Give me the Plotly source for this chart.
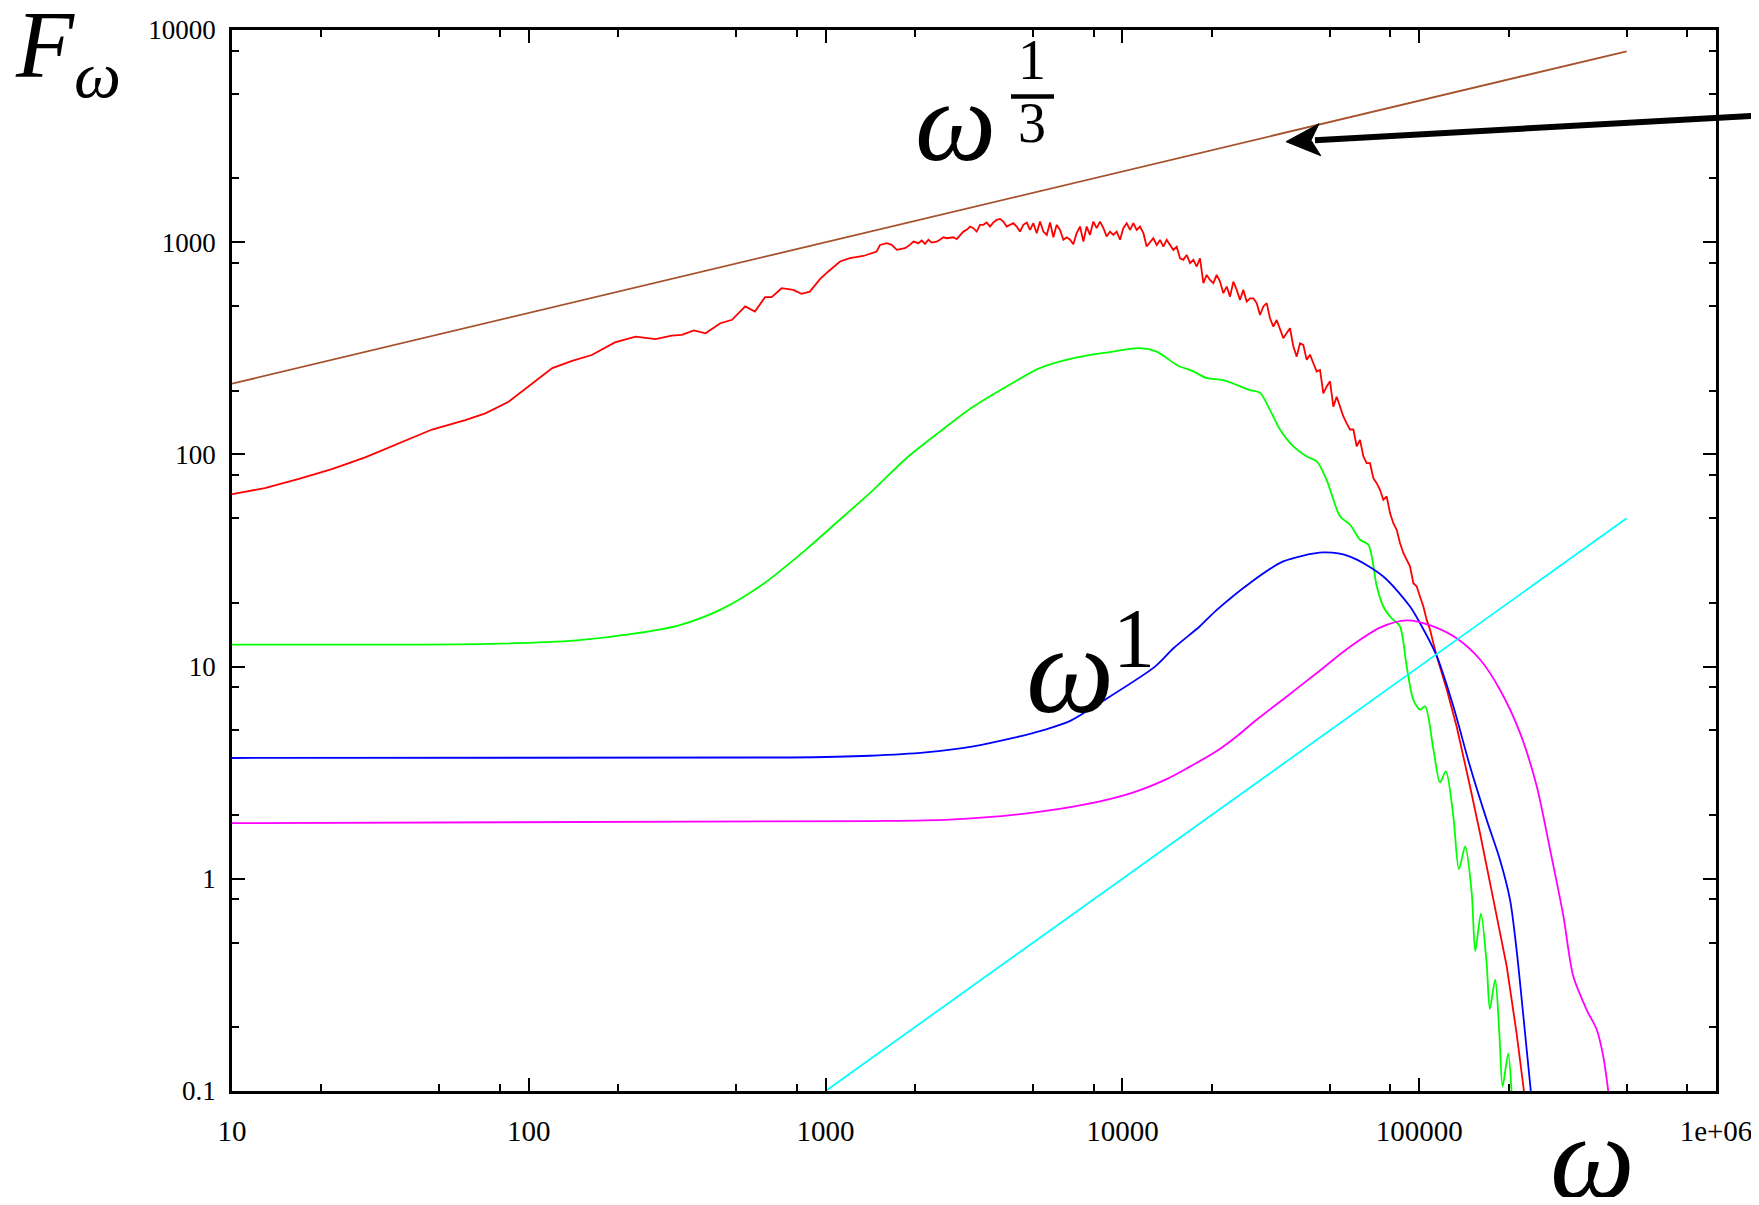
import plotly.graph_objects as go

# ---------------- axis ticks ----------------
x_tick_vals = [10, 100, 1000, 10000, 100000, 1000000]
x_tick_text = ["10", "100", "1000", "10000", "100000", "1e+06"]
y_tick_vals = [0.1, 1, 10, 100, 1000, 10000]
y_tick_text = ["0.1", "1", "10", "100", "1000", "10000"]
minor_mults = [2, 5, 8]
x_minor = [m * d for d in [10, 100, 1000, 10000, 100000] for m in minor_mults]
y_minor = [m * d for d in [0.1, 1, 10, 100, 1000] for m in minor_mults]

# ---------------- data ----------------
red_x = [10, 12.9, 16.8, 21.7, 28.1, 36.5, 47.2, 61.1, 71.4, 85.5, 103, 120, 140, 163, 195,
         229, 267, 303, 328, 360, 394, 442, 484, 536, 578, 625, 658, 711, 778, 830, 885,
         957, 1021, 1119, 1208, 1340, 1486, 1526, 1607, 1670, 1738, 1852, 1923, 1976, 2054,
         2108, 2163, 2220, 2278, 2368, 2427, 2494, 2559,
         2695, 2765, 2838, 2912, 2988, 3066, 3146, 3229, 3313, 3400, 3489, 3580, 3675, 3771,
         3870, 3971, 4074, 4182, 4292, 4404, 4520, 4637, 4761, 4885, 5012, 5144, 5278, 5417,
         5561, 5705, 5854, 6004, 6163, 6328, 6493, 6663, 6833, 7013, 7198, 7389, 7579, 7775,
         7981, 8192, 8408, 8630, 8851, 9083, 9325, 9567, 9819, 10070, 10340, 10610, 10890,
         11170, 11460, 11770, 12070,
         12710, 13050, 13390, 13740, 14100, 14470, 14850, 15240, 15640, 16040, 16470, 16900,
         17340, 17800, 18260, 18740, 19230, 19730, 20250, 20780, 21330, 21880, 22460, 23050,
         23650, 24270, 24910, 25560, 26230, 26910, 27620, 28350, 29090, 29850, 30630, 31430,
         32250, 33100, 33970, 34850, 35770, 36710, 37670, 38660, 39660, 40700, 41780, 42870,
         43980, 45140, 46330, 47540, 48780, 50070, 51370, 52720, 54110, 55520, 56970, 58460,
         60010, 61580, 63190, 64850, 66520, 68280, 70070, 71900, 73780, 75700, 77700, 79730,
         81820, 83970, 86150, 88430, 90730, 93120, 95560, 98040, 100600, 103300, 106000,
         108800, 111600,
         114600, 123900, 133700, 148300, 160300, 177800, 197200, 212800, 225400]
red_y = [65.0, 69.3, 76.6, 85.3, 96.8, 113, 131, 145, 156, 177, 217, 255, 276, 294, 337,
         359, 349, 363, 366, 384, 372, 415, 431, 498, 471, 551, 551, 607, 596, 571, 585,
         670, 728, 811, 841, 861, 904, 971, 989, 971, 920, 937, 971, 1007, 989,
         1018, 982, 1027, 996, 1007, 1026, 1055, 1044,
         1055, 1033, 1071, 1122, 1143, 1185, 1164, 1122, 1207, 1207, 1238, 1185, 1238, 1274,
         1288, 1251, 1185, 1207, 1229, 1185, 1122, 1207, 1238, 1143, 1229, 1103, 1251, 1122,
         1082, 1238, 1055, 1207, 1143, 1027, 1055, 1027, 978, 1103, 1185, 1007, 1185, 1082,
         1251, 1164, 1251, 1164, 1064, 1122, 1082, 1122, 1027, 1164, 1229, 1143, 1229,
         1143, 1185, 1103, 954,
         1044, 971, 1025, 953, 1025, 971, 919, 953, 840, 826, 871, 796,
         826, 768, 840, 641, 701, 664, 641, 701, 652, 575, 618, 554,
         652, 596, 535, 596, 525, 544, 544, 516, 454, 498, 516, 438,
         400, 430, 393, 353, 373, 393, 322, 289, 334, 328, 279, 295,
         269, 246, 250, 194, 209, 221, 168, 187, 168, 151, 140, 131,
         131, 109, 117, 97.8, 90.9, 90.9, 77.3, 73.2, 68.1, 61.1, 63.4, 52.9,
         47.4, 44.1, 38.2, 34.3, 31.9, 29.7, 24.7, 23.9, 21.4, 19.2, 16.6,
         14.9, 12.9,
         11.2, 7.78, 5.22, 2.73, 1.64, 0.798, 0.387, 0.188, 0.1]

green_x = [10, 74.1, 145, 226, 323, 441, 601, 859, 1038, 1449, 1875, 2427, 3148, 4074, 5272,
           6839, 8851, 11460, 13060, 15240, 17340, 19230, 21880, 26920, 29110, 31410, 33960,
           37670, 41780, 45190, 48750, 54080, 58480, 63240, 67450, 71940, 75680, 80720, 86100,
           90780, 95500, 100700, 104700, 111700, 117500, 123000, 130300, 136100, 142900,
           150300, 154500, 161400, 168700, 173000, 180300, 186200, 191000, 199500, 204600]
green_y = [12.7, 12.8, 13.3, 14.3, 15.7, 18.5, 23.9, 35.6, 45.0, 68.1, 96.2, 128, 168, 209, 255,
           284, 302, 317, 305, 264, 246, 229, 224, 201, 195, 162, 131,
           109, 97.7, 92.7, 75.9, 51.1, 46.6, 39.6, 37.5, 23.9, 19.2, 16.9, 15.5,
           10.0, 6.98, 6.27, 6.50, 4.06, 2.85, 3.21, 1.97, 1.11, 1.42,
           0.859, 0.456, 0.685, 0.402, 0.244, 0.335, 0.188, 0.105, 0.150, 0.100]

blue_x = [10, 759, 1409, 2173, 3148, 4285, 5495, 6650, 8395, 12880, 14860, 18240, 20800, 26920,
          34830, 47530, 58480, 75680, 93110, 100700, 114600, 130300, 148300, 168700, 187100,
          202300, 212800, 224400, 237700]
blue_y = [3.71, 3.73, 3.80, 3.94, 4.21, 4.61, 5.05, 5.53, 6.75, 10.0, 12.2, 15.5, 18.5, 24.8,
          31.3, 34.5, 33.0, 26.6, 19.2, 16.0, 11.2, 6.50, 3.39, 1.90, 1.23,
          0.798, 0.465, 0.225, 0.1]

magenta_x = [10, 1409, 2618, 4853, 7482, 10840, 14090, 16710, 20800, 24550, 28250, 34750, 45190,
             58480, 74130, 90780, 109600, 133700, 160300, 187100, 218800, 248900, 276100,
             306200, 330400, 366400, 396300, 416900, 433500]
magenta_y = [1.83, 1.87, 1.90, 2.04, 2.24, 2.55, 2.95, 3.35, 4.0, 4.75, 5.6, 7.0, 9.33,
             12.4, 15.3, 16.5, 15.6, 13.6, 10.8, 7.78, 4.86, 2.73, 1.37,
             0.665, 0.348, 0.242, 0.195, 0.146, 0.1]

cyan_x = [1000, 500000]
cyan_y = [0.1, 50]

brown_x = [10, 500000]
brown_y = [215.4, 7937]

# ---------------- figure ----------------
# the page body keeps an 8px margin on every side, so the figure is 16px smaller
OFF = 8
W, H = 1759 - 2 * OFF, 1205 - 2 * OFF
ML, MT = 232 - OFF, 30 - OFF
PW, PH = 1484, 1061.5
MR, MB = W - ML - PW, H - MT - PH


def px(X):
    return (X - OFF - ML) / PW


def py(Y):
    return (OFF + MT + PH - Y) / PH


fig = go.Figure()
series = [
    (brown_x, brown_y, "#a5522d", "linear"),
    (red_x, red_y, "#ff0000", "linear"),
    (green_x, green_y, "#00ff00", "spline"),
    (blue_x, blue_y, "#0000ff", "spline"),
    (magenta_x, magenta_y, "#ff00ff", "spline"),
    (cyan_x, cyan_y, "#00ffff", "linear"),
]
for xs, ys, col, shp in series:
    fig.add_trace(go.Scatter(x=xs, y=ys, mode="lines",
                             line=dict(color=col, width=1.8, shape=shp, smoothing=0.8),
                             showlegend=False, hoverinfo="skip"))

common = dict(showgrid=False, zeroline=False, showline=True, linecolor="black", linewidth=2.5,
              mirror="ticks", ticks="inside", ticklen=13, tickwidth=1.5, tickcolor="black",
              tickmode="array", ticklabeloverflow="allow", automargin=False)
fig.update_xaxes(type="log", range=[1, 6], tickvals=x_tick_vals, ticktext=x_tick_text,
                 ticklabelstandoff=12,
                 tickfont=dict(family="Liberation Serif", size=29, color="black"),
                 minor=dict(tickvals=x_minor, ticks="inside", ticklen=7, tickwidth=1.5,
                            tickcolor="black", showgrid=False),
                 **common)
fig.update_yaxes(type="log", range=[-1, 4], tickvals=y_tick_vals, ticktext=y_tick_text,
                 ticklabelstandoff=8,
                 tickfont=dict(family="Liberation Serif", size=27, color="black"),
                 minor=dict(tickvals=y_minor, ticks="inside", ticklen=7, tickwidth=1.5,
                            tickcolor="black", showgrid=False),
                 **common)

serif = "Liberation Serif"


def label(text, X, Y, size):
    fig.add_annotation(text=text, x=px(X), y=py(Y), xref="paper", yref="paper",
                       xanchor="center", yanchor="middle", showarrow=False,
                       font=dict(family=serif, size=size, color="black"))


label("<i>F</i><sub><i>ω</i></sub>", 68, 52, 95)
label("<i>ω</i>", 955, 122, 115)
label("1", 1032, 60, 56)
label("3", 1032, 123, 56)
label("<i>ω</i>", 1070, 670, 125)
label("1", 1134, 639, 84)
label("<i>ω</i>", 1592, 1158, 120)

# fraction bar of the 1/3 exponent
fig.add_shape(type="line", xref="paper", yref="paper", x0=px(1011), x1=px(1054),
              y0=py(96.5), y1=py(96.5), line=dict(color="black", width=4.5))

# arrow pointing at the omega^(1/3) line (page-pixel geometry converted to paper units)
tip = (1286, 141.7)
notch = (1311, 140.3)
barb_hi = (1319.0, 123.8)
barb_lo = (1320.8, 155.8)
tail = (1790, 113.8)
fig.add_shape(type="line", xref="paper", yref="paper", x0=px(tail[0]), y0=py(tail[1]),
              x1=px(notch[0] + 4), y1=py(notch[1]), line=dict(color="black", width=6))
head = "M {} {} L {} {} L {} {} L {} {} Z".format(
    px(tip[0]), py(tip[1]), px(barb_hi[0]), py(barb_hi[1]),
    px(notch[0]), py(notch[1]), px(barb_lo[0]), py(barb_lo[1]))
fig.add_shape(type="path", xref="paper", yref="paper", path=head,
              fillcolor="black", line=dict(color="black", width=1))

fig.update_layout(width=W, height=H, margin=dict(l=ML, r=MR, t=MT, b=MB),
                  paper_bgcolor="white", plot_bgcolor="white")
fig.write_html("out.html")
